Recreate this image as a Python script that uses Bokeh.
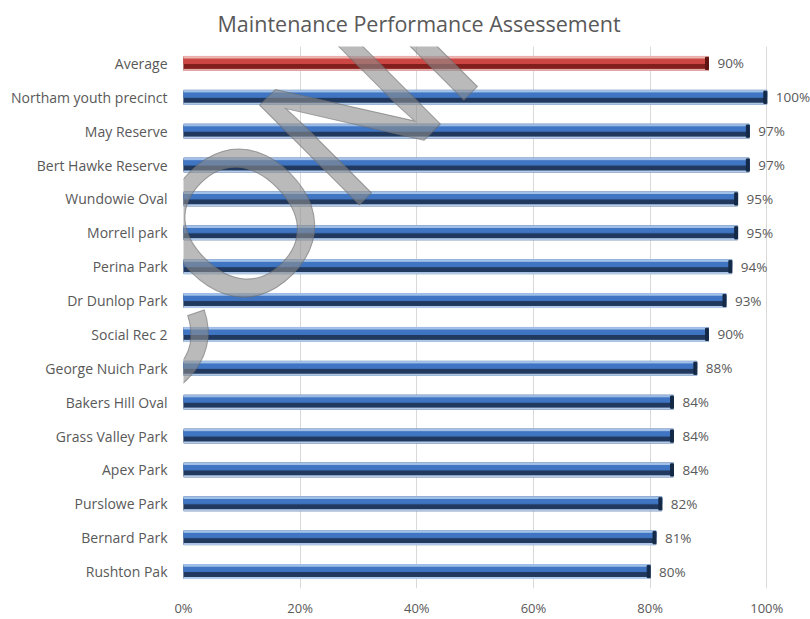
import math
from bokeh.plotting import figure
from bokeh.models import Range1d, FactorRange, FixedTicker, Label, LabelSet, ColumnDataSource
from bokeh.transform import dodge
from bokeh.embed import file_html
from bokeh.resources import INLINE
from bokeh.core.properties import value

# ---------------- data ----------------
title_text = "Maintenance Performance Assessement"
sites = ["Average", "Northam youth precinct", "May Reserve", "Bert Hawke Reserve",
         "Wundowie Oval", "Morrell park", "Perina Park", "Dr Dunlop Park",
         "Social Rec 2", "George Nuich Park", "Bakers Hill Oval", "Grass Valley Park",
         "Apex Park", "Purslowe Park", "Bernard Park", "Rushton Pak"]
scores = [90, 100, 97, 97, 95, 95, 94, 93, 90, 88, 84, 84, 84, 82, 81, 80]
x_ticks = [0, 20, 40, 60, 80, 100]
x_tick_labels = ["0%", "20%", "40%", "60%", "80%", "100%"]
watermark = "UNCONFIRMED"

# ---------------- style ----------------
FONT = "Open Sans"
TXT = "#595959"
BLUE = dict(hi="#A3C2EA", mid="#3F75C2", dark="#21395E", low="#B4CCEB", cap="#152A47")
RED = dict(hi="#EDB5B3", mid="#CC4744", dark="#821E1C", low="#E6B0AF", cap="#5E1412")

pal = [RED if s == "Average" else BLUE for s in sites]
src = ColumnDataSource(dict(
    site=sites,
    score=scores,
    cap_left=[v - 0.5 for v in scores],
    lbl=[f"{v}%" for v in scores],
    hi=[c["hi"] for c in pal],
    mid=[c["mid"] for c in pal],
    dark=[c["dark"] for c in pal],
    low=[c["low"] for c in pal],
    cap=[c["cap"] for c in pal],
))

X_END = 107.5
p = figure(width=810, height=619,
           x_range=Range1d(0, X_END), y_range=FactorRange(factors=sites[::-1]),
           output_backend="svg", toolbar_location=None,
           min_border_left=183, min_border_right=0, min_border_top=46, min_border_bottom=31)
p.outline_line_color = None
p.background_fill_color = "white"
p.border_fill_color = "white"

p.title.text = title_text
p.title.text_font = FONT
p.title.text_font_size = "21.5px"
p.title.text_font_style = "normal"
p.title.text_color = TXT
p.title.align = "left"
p.title.offset = 34
p.title.vertical_align = "top"
p.title.standoff = 14

# bars: layered to imitate the 3-D cylinder look
p.hbar(y="site", left=0, right="score", height=0.41, color="dark", source=src)
p.hbar(y=dodge("site", 0.08, range=p.y_range), left=0, right="score", height=0.16, color="mid", source=src)
p.hbar(y=dodge("site", 0.183, range=p.y_range), left=0, right="score", height=0.047, color="hi", source=src)
p.hbar(y=dodge("site", -0.19, range=p.y_range), left=0, right="score", height=0.03, color="low", source=src)
p.hbar(y="site", left="cap_left", right="score", height=0.36, color="cap", source=src)

# axes
p.xaxis.ticker = FixedTicker(ticks=x_ticks)
p.xaxis.major_label_overrides = {t: l for t, l in zip(x_ticks, x_tick_labels)}
p.xgrid.ticker = FixedTicker(ticks=x_ticks)
p.xgrid.grid_line_color = "#D9D9D9"
p.ygrid.grid_line_color = None
for ax in (p.xaxis, p.yaxis):
    ax.axis_line_color = None
    ax.major_tick_line_color = None
    ax.minor_tick_line_color = None
    ax.major_tick_out = 0
    ax.major_label_text_font = FONT
    ax.major_label_text_color = TXT
p.xaxis.major_label_text_font_size = "13px"
p.yaxis.major_label_text_font_size = "14px"
p.xaxis.major_label_standoff = 10
p.yaxis.major_label_standoff = 16

# value labels
p.add_layout(LabelSet(x="score", y="site", text="lbl", x_offset=9, source=src,
                      text_baseline="middle", text_font=value(FONT),
                      text_font_size="13.5px", text_color=TXT))

# pixel -> data helpers
FL, FR, FT, FB = 183.0, 810.0, 46.0, 588.0
def dx(px):
    return (px - FL) / ((FR - FL) / X_END)
def dy(py):
    return (FB - py) / ((FB - FT) / 16.0)

# watermark, letter by letter along a 45 degree baseline
def make_label(**kw):
    try:
        return Label(text_outline_color="#6E6E6E", **kw)
    except Exception:
        return Label(**kw)

WM_SIZE = 205
adv = {"U": .722, "N": .722, "C": .722, "O": .778, "F": .611, "I": .278,
       "R": .722, "M": .833, "E": .667, "D": .722}
ref_idx, ref_x, ref_y = 3, 240.0, 222.0   # centre of the "O"
c = math.cos(math.radians(45)); s = math.sin(math.radians(45))
pos = []
acc = 0.0
for k, ch in enumerate(watermark):
    if k > 0:
        acc += (adv[watermark[k - 1]] + adv[ch]) / 2 * WM_SIZE
    pos.append(acc)
for k, ch in enumerate(watermark):
    t = pos[k] - pos[ref_idx]
    px, py = ref_x + t * c, ref_y - t * s
    p.add_layout(make_label(x=dx(px), y=dy(py), text=ch,
                            angle=45, angle_units="deg", text_align="center",
                            text_baseline="middle", text_font="Liberation Sans",
                            text_font_size=f"{WM_SIZE}px", text_color="#8C8C8C", text_alpha=0.6))

open("out.html", "w").write(file_html(p, INLINE))
